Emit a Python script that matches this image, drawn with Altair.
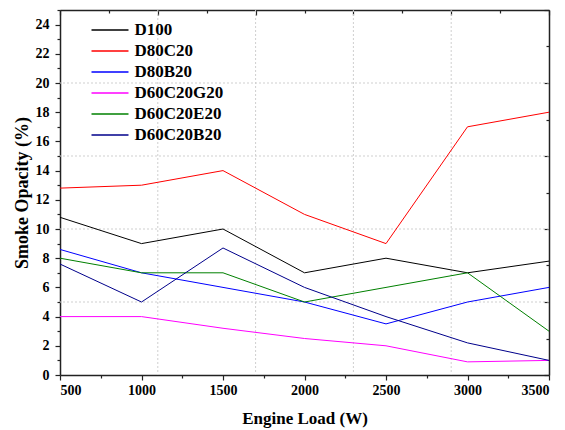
import altair as alt
import pandas as pd

loads = [500, 1000, 1500, 2000, 2500, 3000, 3500]
series = ["D100", "D80C20", "D80B20", "D60C20G20", "D60C20E20", "D60C20B20"]
d100 = [10.8, 9.0, 10.0, 7.0, 8.0, 7.0, 7.8]
d80c20 = [12.8, 13.0, 14.0, 11.0, 9.0, 17.0, 18.0]
d80b20 = [8.6, 7.0, 6.0, 5.0, 3.5, 5.0, 6.0]
d60c20g20 = [4.0, 4.0, 3.2, 2.5, 2.0, 0.9, 1.0]
d60c20e20 = [8.0, 7.0, 7.0, 5.0, 6.0, 7.0, 3.0]
d60c20b20 = [7.6, 5.0, 8.7, 6.0, 4.0, 2.2, 1.0]
colors = ["#000000", "#ff0000", "#0000ff", "#ff00ff", "#008000", "#00008b"]

bottom_ticks = list(range(500, 3501, 250))
top_ticks = list(range(500, 3501, 300))
left_ticks = list(range(0, 26, 1))
right_ticks = [i * 2.5 for i in range(11)]
grid_x = [1100, 1700, 2300, 2900]
grid_y = [5, 10, 15, 20]

values = [d100, d80c20, d80b20, d60c20g20, d60c20e20, d60c20b20]
rows = []
for name, vals in zip(series, values):
    for x, v in zip(loads, vals):
        rows.append({"load": x, "value": v, "series": name})
df = pd.DataFrame(rows)

xscale = alt.Scale(domain=[500, 3500], nice=False, zero=False)
yscale = alt.Scale(domain=[0, 25], nice=False)

FONT = "Liberation Serif"

bottom_axis = alt.Axis(
    orient="bottom", values=bottom_ticks, format="d",
    labelExpr="datum.value % 500 == 0 ? datum.label : ''",
    tickSize={"condition": {"test": "datum.value % 500 == 0", "value": 5}, "value": 3},
    labelFontSize=14, labelPadding=3, grid=False,
    title="Engine Load (W)", titleFontSize=17, titleY=43, titleBaseline="middle",
)
left_axis = alt.Axis(
    orient="left", values=left_ticks,
    labelExpr="datum.value % 2 == 0 && datum.value < 25 ? datum.label : ''",
    tickSize={"condition": {"test": "datum.value % 2 == 0", "value": 5}, "value": 3},
    labelFontSize=14, labelPadding=6, grid=False,
    title="Smoke Opacity (%)", titleFontSize=18, titleX=-38, titleY=182.5,
    titleBaseline="middle", titleAngle=270,
)
top_axis = alt.Axis(
    orient="top", values=top_ticks, labels=False, grid=False, title=None,
    tickSize={"condition": {"test": "(datum.value - 500) % 600 == 0", "value": -5}, "value": -3},
)
right_axis = alt.Axis(
    orient="right", values=right_ticks, labels=False, grid=False, title=None,
    tickSize={"condition": {"test": "datum.value % 5 == 0", "value": -5}, "value": -3},
)

gx = alt.Chart(pd.DataFrame({"gx": grid_x})).mark_rule(
    color="#cfcfcf", strokeDash=[2, 2], strokeWidth=1
).encode(x=alt.X("gx:Q", scale=xscale, axis=top_axis))

gy = alt.Chart(pd.DataFrame({"gy": grid_y})).mark_rule(
    color="#cfcfcf", strokeDash=[2, 2], strokeWidth=1
).encode(y=alt.Y("gy:Q", scale=yscale, axis=right_axis))

lines = alt.Chart(df).mark_line(strokeWidth=1).encode(
    x=alt.X("load:Q", scale=xscale, axis=bottom_axis),
    y=alt.Y("value:Q", scale=yscale, axis=left_axis),
    color=alt.Color(
        "series:N",
        scale=alt.Scale(domain=series, range=colors),
        sort=series,
        legend=alt.Legend(
            title=None, orient="none", legendX=40, legendY=10,
            symbolType="M-2,0H2", symbolSize=342, symbolStrokeWidth=1.5,
            labelFont=FONT, labelFontSize=17, labelFontWeight="bold",
            labelColor="black", labelOffset=14.5, rowPadding=3, padding=0,
        ),
    ),
    detail="series:N",
)

chart = alt.layer(gx, gy, lines).resolve_axis(x="independent", y="independent").properties(
    width=489, height=365,
    autosize=alt.AutoSizeParams(type="none"),
    padding={"left": 60, "top": 10, "right": 16, "bottom": 55},
    background="white",
).configure_view(stroke=None).configure_axis(
    labelFont=FONT, labelFontWeight="bold", labelColor="black",
    titleFont=FONT, titleFontWeight="bold", titleColor="black",
    domainColor="#222222", domainWidth=1.5, tickColor="#222222", tickWidth=1.2,
)

chart.save("out.html", embed_options={"renderer": "svg", "actions": False})
